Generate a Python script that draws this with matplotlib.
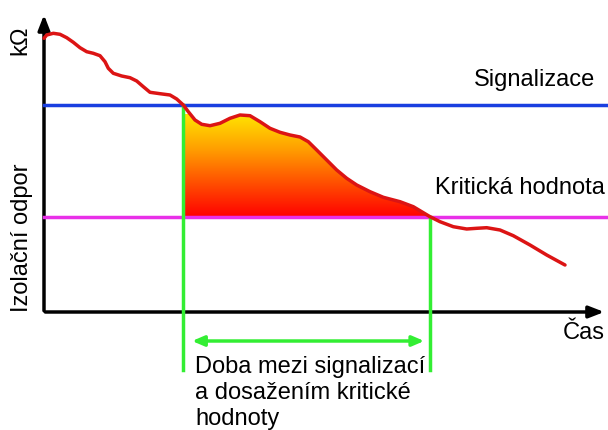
import numpy as np
import matplotlib.pyplot as plt
from matplotlib.colors import LinearSegmentedColormap
from matplotlib.patches import Polygon

# curve (time, resistance), origin at the axis corner
cas = [0, 2.7, 9.3, 16, 22.7, 29.3, 36, 42.7, 49.3, 56, 61, 64.3, 69.3, 77.7, 86,
       92.7, 99.3, 106, 116, 126, 132.7, 139.3, 144.3, 151, 157.7, 166, 176, 186,
       196, 206, 216, 226, 236, 246, 256, 264.3, 272.7, 282.7, 292.7, 302.7,
       312.7, 326, 339.3, 356, 369.3, 386, 396, 409.3, 422.7, 432.7, 442.7, 456,
       469.3, 486, 502.7, 521]
odpor = [273.7, 277, 278.7, 277.7, 274.3, 269.7, 264.3, 260.3, 258.7, 256.3, 250.3,
         243.7, 238.7, 236, 234.3, 231, 225.3, 219.7, 218.3, 217, 213, 207, 200.3,
         192, 187.7, 186.3, 188.7, 193.7, 197, 196.3, 190.3, 183.7, 179.7, 177, 175,
         170.3, 162, 152, 142, 133.7, 127, 120.3, 114.7, 110.3, 105.3, 95.3, 90.3,
         85.3, 83, 83.7, 84.3, 82, 76.3, 67, 57, 47]
signalizace = 207
kriticka = 95.3
t_signal = 139.3
t_krit = 386

plt.rcParams['font.family'] = ['Liberation Sans', 'DejaVu Sans']

fig = plt.figure(figsize=(6.08, 4.30), dpi=100)
ax = fig.add_axes([0, 0, 1, 1])
ax.set_xlim(-44, 564)
ax.set_ylim(-118, 312)
ax.axis("off")

# axes with arrows
ax.annotate("", xy=(0, 300), xytext=(0, -1.5),
            arrowprops=dict(arrowstyle="-|>,head_width=0.35,head_length=0.9", color="black", lw=2.5))
ax.annotate("", xy=(563, 0), xytext=(-1.5, 0),
            arrowprops=dict(arrowstyle="-|>,head_width=0.35,head_length=0.9", color="black", lw=2.5))

# thresholds
ax.plot([0, 564], [signalizace, signalizace], color="#1a3fe0", lw=2.5, zorder=3)
ax.plot([0, 564], [kriticka, kriticka], color="#e830e8", lw=2.5, zorder=3)

# gradient fill between curve and critical value
cas_a = np.array(cas)
odpor_a = np.array(odpor)
mask = (cas_a >= t_signal) & (cas_a <= t_krit)
poly_x = np.concatenate([cas_a[mask], [t_krit, t_signal]])
poly_y = np.concatenate([odpor_a[mask], [kriticka, kriticka]])
clip = Polygon(np.column_stack([poly_x, poly_y]), closed=True, facecolor="none", edgecolor="none")
ax.add_patch(clip)
cmap = LinearSegmentedColormap.from_list("grad", ["#ff0000", "#ff5000", "#ffa000", "#ffe400"])
grad = np.linspace(0, 1, 256).reshape(-1, 1)
im = ax.imshow(grad, extent=[t_signal, t_krit, kriticka, 198], origin="lower",
               cmap=cmap, aspect="auto", zorder=2)
im.set_clip_path(clip)

# curve
ax.plot(cas, odpor, color="#dc1414", lw=2.5, zorder=4, solid_capstyle="round",
        solid_joinstyle="round")

# green markers
ax.plot([t_signal, t_signal], [signalizace, -58], color="#33ee33", lw=2.5, zorder=3)
ax.plot([t_krit, t_krit], [kriticka, -58], color="#33ee33", lw=2.5, zorder=3)
ax.annotate("", xy=(t_signal + 6, -29), xytext=(t_krit - 3, -29),
            arrowprops=dict(arrowstyle="<|-|>,head_width=0.3,head_length=0.7", color="#33ee33", lw=2.5))

# labels
fs = 17
ax.text(-24, 272, "kΩ", rotation=90, fontsize=fs, ha="center", va="center")
ax.text(-22, 74, "Izolační odpor", rotation=90, fontsize=fs, ha="center", va="center")
ax.text(551, 232, "Signalizace", fontsize=fs, ha="right", va="center")
ax.text(561, 124, "Kritická hodnota", fontsize=fs, ha="right", va="center")
ax.text(561, -21, "Čas", fontsize=fs, ha="right", va="center")
ax.text(151, -81, "Doba mezi signalizací\na dosažením kritické\nhodnoty", fontsize=fs,
        ha="left", va="center", linespacing=1.22)

fig.savefig("out.png", dpi=100)
